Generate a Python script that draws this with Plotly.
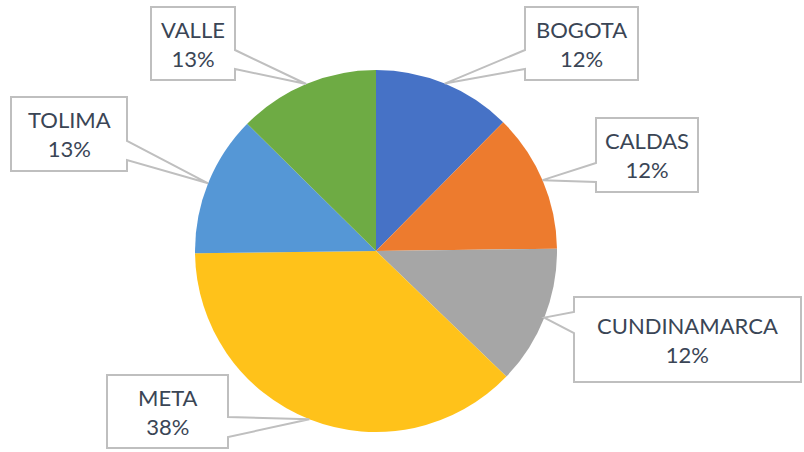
import math
import plotly.graph_objects as go

# ---- data ----
regions = ["BOGOTA", "CALDAS", "CUNDINAMARCA", "META", "TOLIMA", "VALLE"]
shares = [12.4, 12.4, 12.4, 37.6, 12.6, 12.6]
colors = ["#4672C6", "#ED7B2E", "#A6A6A6", "#FFC21A", "#5597D6", "#6EAB44"]

# ---- layout constants (pixels) ----
W, H = 804, 452
CX, CY, R = 376, 251, 181
# callout boxes: (left, top, right, bottom, wedge edge, wedge y1, wedge y2)
boxes = {
    "BOGOTA":       (525, 7, 638, 80, "left", 50, 69),
    "CALDAS":       (596, 118, 698, 192, "left", 163, 182),
    "CUNDINAMARCA": (574, 297, 801, 382, "left", 312, 333),
    "META":         (107, 375, 228, 448, "right", 417, 437),
    "TOLIMA":       (11, 97, 127, 171, "right", 141, 160),
    "VALLE":        (151, 7, 235, 80, "right", 50, 69),
}

def px(x):
    return x / W

def py(y):
    return 1 - y / H

fig = go.Figure(go.Pie(
    labels=regions, values=shares, sort=False, direction="clockwise",
    rotation=0, textinfo="none", hoverinfo="label+percent",
    marker=dict(colors=colors, line=dict(color="white", width=0)),
    domain=dict(x=[px(CX - R), px(CX + R)], y=[py(CY + R), py(CY - R)]),
    showlegend=False,
))

total = sum(shares)
cum = 0.0
shapes, annotations = [], []
for name, v in zip(regions, shares):
    theta = 2 * math.pi * (cum + v / 2) / total
    cum += v
    ax = CX + R * math.sin(theta)
    ay = CY - R * math.cos(theta)
    l, t, r, b, side, w1, w2 = boxes[name]
    if side == "right":
        pts = [(l, t), (r, t), (r, w1), (ax, ay), (r, w2), (r, b), (l, b)]
    else:
        pts = [(l, t), (r, t), (r, b), (l, b), (l, w2), (ax, ay), (l, w1)]
    path = "M " + " L ".join(f"{px(x):.5f},{py(y):.5f}" for x, y in pts) + " Z"
    shapes.append(dict(type="path", xref="paper", yref="paper", path=path,
                       fillcolor="white", line=dict(color="#BFBFBF", width=2)))
    pct = round(100 * v / total)
    annotations.append(dict(
        xref="paper", yref="paper", x=px((l + r) / 2), y=py((t + b) / 2),
        text=f"{name}<br>{pct}%", showarrow=False,
        font=dict(family="Lato, Liberation Sans, sans-serif", size=22, color="#3A4555"),
        xanchor="center", yanchor="middle", align="center"))

fig.update_layout(
    width=W, height=H, margin=dict(l=0, r=0, t=0, b=0),
    paper_bgcolor="white", plot_bgcolor="white",
    shapes=shapes, annotations=annotations,
)

fig.write_html("out.html", config={"displayModeBar": False},
               post_script="document.body.style.margin='0';document.body.style.overflow='hidden';")
